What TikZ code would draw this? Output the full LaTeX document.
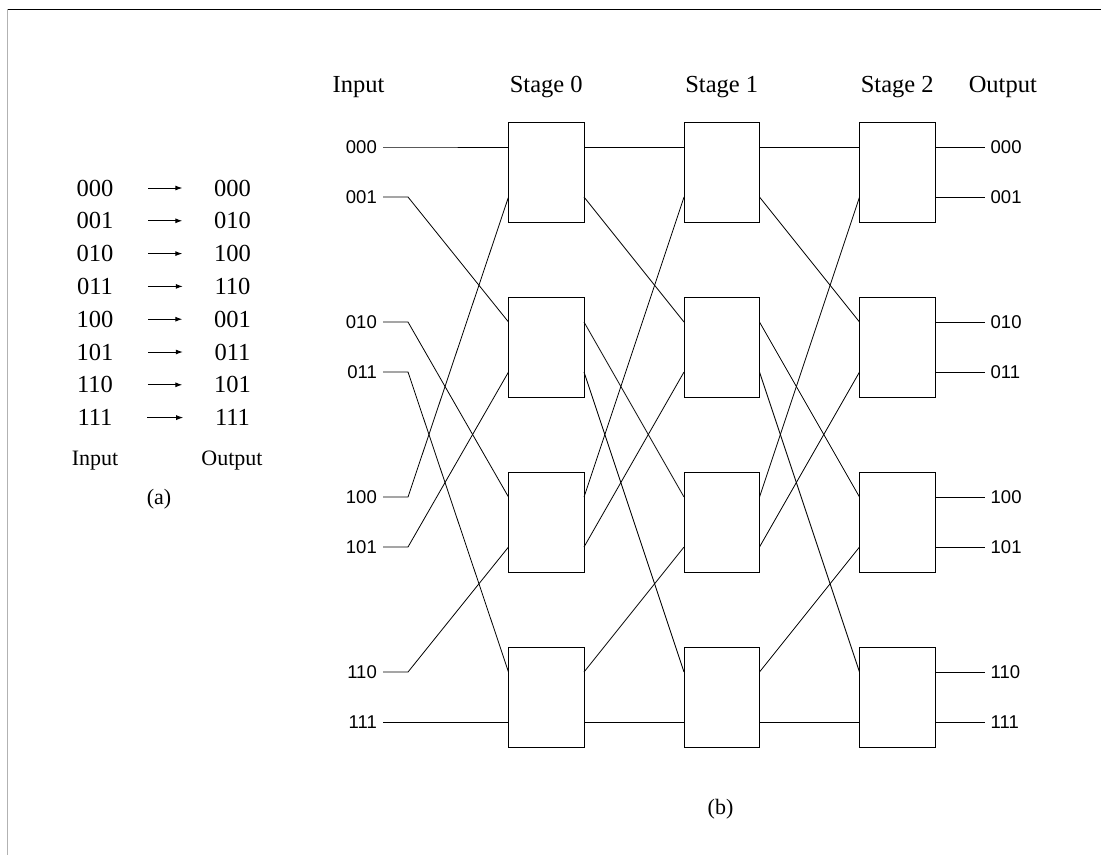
\documentclass[tikz,border=0pt]{standalone}
\usepackage{fontspec}
\setmainfont{Liberation Serif}
\newfontfamily\arialf{Liberation Sans}
\usetikzlibrary{arrows.meta,calc}
\begin{document}
\begin{tikzpicture}[x=1pt,y=-1pt,
  box/.style={draw, line width=0.9pt, minimum width=75.5pt, minimum height=100pt, inner sep=0pt, outer sep=0pt},
  wire/.style={line width=0.8pt},
  portlab/.style={font=\arialf\fontsize{18.5}{22}\selectfont, inner ysep=0pt},
  head/.style={font=\fontsize{24.5}{28}\selectfont, anchor=base, inner sep=0pt},
  dig/.style={font=\fontsize{24.5}{28}\selectfont, inner sep=0pt},
  sublab/.style={font=\fontsize{22}{26}\selectfont, anchor=base, inner sep=0pt},
  arr/.style={line width=0.9pt, -{Latex[length=7pt,width=5pt]}}]
\useasboundingbox (0,0) rectangle (1101,855);
% frame
\draw[black, line width=1pt] (7.3,9.3) -- (1101,9.3);
\draw[gray!60, line width=1.6pt] (7.3,9.3) -- (7.3,855);

% ----- (a) -----
\foreach \k/\a/\b in {0/000/000,1/001/010,2/010/100,3/011/110,4/100/001,5/101/011,6/110/101,7/111/111}{
  \node[dig] (l\k) at (95,{188+32.8*\k}) {\a};
  \node[dig] (r\k) at (232.5,{188+32.8*\k}) {\b};
  \draw[arr, shorten <=34.7pt, shorten >=31.6pt] (l\k.east) -- (r\k.west);
}
\node[sublab] (ain) at (95,465.7) {Input};
\node[sublab] (aout) at (232,465.7) {Output};
\node[sublab] (alab) at (159,504) {(a)};

% ----- (b) -----
\node[head] (hin) at (358.5,92.3) {Input};
\node[head] (h0) at (546.25,92.3) {Stage 0};
\node[head] (h1) at (721.75,92.3) {Stage 1};
\node[head] (h2) at (897.25,92.3) {Stage 2};
\node[head] (hout) at (1002.8,92.3) {Output};

\foreach \c in {0,1,2}{
  \foreach \r in {0,1,2,3}{
    \node[box] (s\c\r) at ({546.25+175.5*\c},{172+175*\r}) {};
  }
  \foreach \p/\r/\dy in {0/0/25,1/0/-25,2/1/25,3/1/-25,4/2/25,5/2/-25,6/3/25,7/3/-25}{
    \coordinate (i\c-\p) at ([yshift=\dy pt]s\c\r.west);
    \coordinate (o\c-\p) at ([yshift=\dy pt]s\c\r.east);
  }
}

\foreach \p/\q/\t/\y in {0/0/000/147,1/2/001/197,2/4/010/322,3/6/011/372,4/1/100/497,5/3/101/547,6/5/110/672,7/7/111/722}{
  \node[portlab, anchor=east, inner xsep=6pt] (in\p) at (383,\y) {\t};
  \coordinate (k\p) at (408,\y);
  \draw[wire] (in\p.east) -- (k\p) -- (i0-\q);
  \node[portlab, anchor=west, inner xsep=5.5pt] (out\p) at (985,\y) {\t};
  \draw[wire] (o2-\p) -- (out\p.west);
  \draw[wire] (o0-\p) -- (i1-\q);
  \draw[wire] (o1-\p) -- (i2-\q);
}
\node[sublab] (blab) at (720.5,814) {(b)};
\end{tikzpicture}
\end{document}
